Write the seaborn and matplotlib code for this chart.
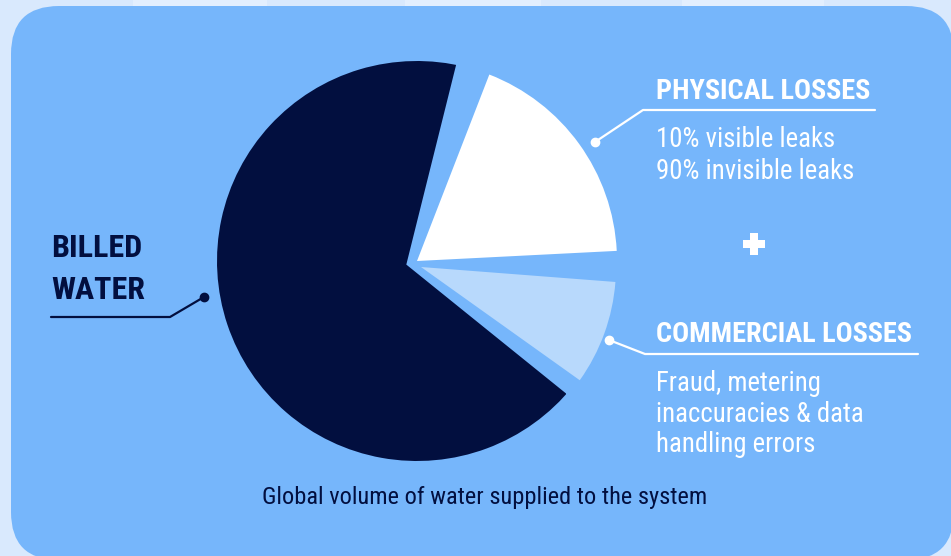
import matplotlib
matplotlib.use("Agg")
import matplotlib.pyplot as plt
from matplotlib import font_manager
from matplotlib.patches import FancyBboxPatch, Rectangle
import seaborn as sns

# ---- data ----
categories = ["Physical losses", "Billed water", "Commercial losses"]
shares = [20, 70, 10]
physical_title = "PHYSICAL LOSSES"
physical_lines = ["10% visible leaks", "90% invisible leaks"]
commercial_title = "COMMERCIAL LOSSES"
commercial_lines = ["Fraud, metering", "inaccuracies & data", "handling errors"]
billed_lines = ["BILLED", "WATER"]
caption = "Global volume of water supplied to the system"

# ---- style ----
sns.set_style("white")
NAVY = "#020f3f"
PANEL = "#76b6fb"
LIGHT = "#b8d9fc"
OUTER_A = "#d9e9fd"
OUTER_B = "#e3effe"
slice_colors = sns.color_palette(["#ffffff", NAVY, LIGHT])

names = {f.name for f in font_manager.fontManager.ttflist}
MAIN = next((n for n in ["Roboto Condensed", "Liberation Sans Narrow", "DejaVu Sans Condensed",
                         "Open Sans Condensed", "Roboto", "DejaVu Sans"] if n in names), "DejaVu Sans")
plt.rcParams["font.family"] = [MAIN, "DejaVu Sans"]

W, H = 951, 556
fig = plt.figure(figsize=(W / 100, H / 100), dpi=100)
fig.patch.set_facecolor(OUTER_A)
renderer = fig.canvas.get_renderer()


def pixel_axes(z):
    a = fig.add_axes([0, 0, 1, 1], zorder=z)
    a.set_xlim(0, W)
    a.set_ylim(H, 0)
    a.axis("off")
    a.patch.set_alpha(0)
    return a


bg = pixel_axes(0)
# faint stripes of the outer page
for x0, x1 in [(133, 267), (405, 541), (682, 824)]:
    bg.add_patch(Rectangle((x0, 0), x1 - x0, 40, color=OUTER_B, lw=0))
# rounded panel
bg.add_patch(FancyBboxPatch((11, 6), 954 - 11, 560 - 6,
                            boxstyle="round,pad=0,rounding_size=48",
                            facecolor=PANEL, edgecolor="none"))

# ---- pie ----
cx, cy, r = 417, 261, 200
pax = fig.add_axes([(cx - r) / W, (H - cy - r) / H, 2 * r / W, 2 * r / H], zorder=1)
pax.patch.set_alpha(0)
wedges, _ = pax.pie(shares, colors=slice_colors, startangle=0, counterclock=True,
                    radius=1, wedgeprops=dict(linewidth=0))
trims = [(2.9, 3.2), (4.0, 2.9), (0.5, 4.4)]
for w, (a, b) in zip(wedges, trims):
    w.set_theta1(w.theta1 + a)
    w.set_theta2(w.theta2 - b)
    w.set_zorder(2)

# billed-water slice: inset by a panel-coloured stroke so it sits apart from the others
gap_px = 9.5
dark = wedges[1]
dark.set_radius(1 + gap_px / r)
dark.set_edgecolor(PANEL)
dark.set_linewidth(2 * gap_px * 72 / 100)
dark.set_joinstyle("miter")
dark.set_zorder(1)

# commercial slice sits slightly apart towards lower right
light = wedges[2]
light.set_center((4 / r, -6 / r))
light.set_radius(0.975)

pax.set_xlim(-1, 1)
pax.set_ylim(-1, 1)
pax.set_aspect("equal")
pax.axis("off")

# ---- annotations (overlay above the pie) ----
ov = pixel_axes(2)


def fit_size(text, width_px, weight="normal"):
    t = ov.text(0, 0, text, fontsize=20, fontweight=weight)
    w = t.get_window_extent(renderer).width
    t.remove()
    return 20 * width_px / w


tx = 656
head_fs = fit_size(commercial_title, 257, "bold")
body_fs = min(fit_size("inaccuracies & data", 207), fit_size("90% invisible leaks", 204))

ov.text(tx, 99, physical_title, color="white", fontsize=head_fs, fontweight="bold", va="baseline")
ov.plot([875, 643, 595], [110, 110, 142], color="white", lw=1.6)
ov.plot([595], [142], "o", color="white", ms=6)
for i, s in enumerate(physical_lines):
    ov.text(tx, 147 + 32 * i, s, color="white", fontsize=body_fs, va="baseline")

# plus sign between the two loss groups
ov.plot([754], [243.5], marker="P", color="white", ms=22 * 0.72, mew=0)

ov.text(tx, 342, commercial_title, color="white", fontsize=head_fs, fontweight="bold", va="baseline")
ov.plot([918, 645, 609], [354, 354, 340], color="white", lw=1.6)
ov.plot([609], [340], "o", color="white", ms=6)
for i, s in enumerate(commercial_lines):
    ov.text(tx, 391 + 30.5 * i, s, color="white", fontsize=body_fs, va="baseline")

billed_fs = fit_size("WATER", 94, "bold")
for i, s in enumerate(billed_lines):
    ov.text(51, 257 + 42 * i, s, color=NAVY, fontsize=billed_fs, fontweight="bold", va="baseline")
ov.plot([51, 170, 204], [317, 317, 297], color=NAVY, lw=1.6)
ov.plot([204], [297], "o", color=NAVY, ms=6)

cap_fs = fit_size(caption, 444)
ov.text(485, 504, caption, color=NAVY, fontsize=cap_fs, ha="center", va="baseline")

fig.savefig("out.png", dpi=100, facecolor=fig.get_facecolor())
